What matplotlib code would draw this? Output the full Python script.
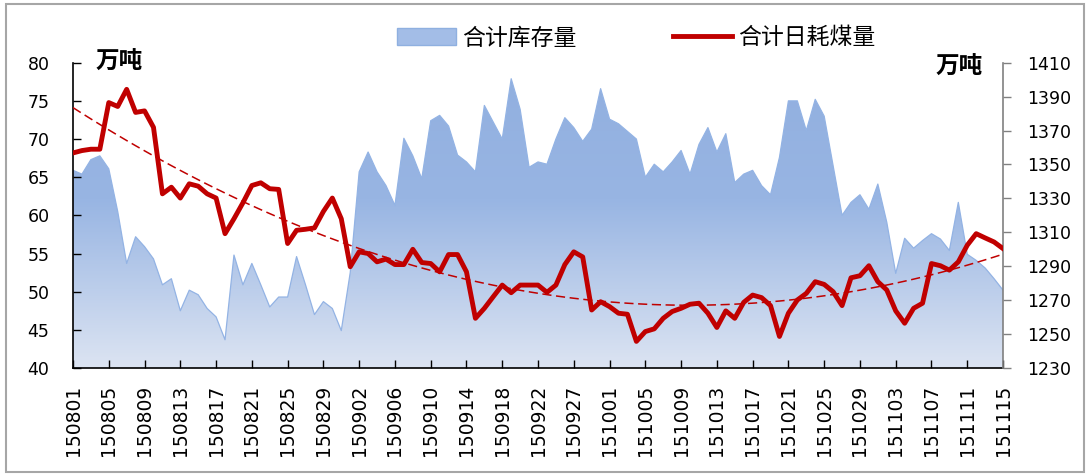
import numpy as np
import matplotlib
matplotlib.use("Agg")
import matplotlib.pyplot as plt
from matplotlib.colors import LinearSegmentedColormap
from matplotlib.lines import Line2D
from matplotlib.patches import Patch, Rectangle

plt.rcParams['font.family'] = ['DejaVu Sans', 'Noto Sans CJK SC']

# 合计库存量 (万吨, left axis)
stock = [65.9, 65.4, 67.3, 67.8, 66.1, 60.5, 53.7, 57.2, 55.9, 54.3,
         50.9, 51.7, 47.5, 50.2, 49.6, 47.8, 46.7, 43.7, 54.8, 50.9,
         53.7, 50.9, 48.0, 49.3, 49.3, 54.6, 50.9, 47.0, 48.7, 47.8,
         44.9, 52.5, 65.7, 68.3, 65.7, 63.9, 61.3, 70.1, 67.8, 64.8,
         72.4, 73.1, 71.7, 67.9, 67.0, 65.7, 74.4, 72.2, 70.0, 77.9,
         73.9, 66.3, 67.0, 66.7, 70.0, 72.8, 71.5, 69.7, 71.3, 76.6,
         72.6, 72.0, 71.0, 70.0, 65.0, 66.7, 65.7, 67.0, 68.5, 65.4,
         69.3, 71.5, 68.3, 70.7, 64.3, 65.4, 65.9, 63.9, 62.7, 67.6,
         75.0, 75.0, 71.1, 75.2, 73.0, 66.5, 60.0, 61.7, 62.7, 60.8,
         64.1, 59.1, 52.4, 57.0, 55.7, 56.7, 57.6, 56.9, 55.4, 61.7,
         54.9, 54.1, 53.1, 51.7, 50.2]

# 合计日耗煤量 (万吨, right axis)
consumption = [1356.8, 1358.2, 1359.0, 1359.0, 1386.5, 1384.2, 1394.3, 1380.7, 1381.6, 1371.9,
               1332.7, 1336.6, 1330.2, 1338.6, 1337.2, 1332.7, 1330.2, 1309.2, 1318.0, 1327.4,
               1337.6, 1339.2, 1335.7, 1335.3, 1303.4, 1311.2, 1311.8, 1312.6, 1322.3, 1330.2,
               1318.0, 1289.7, 1298.5, 1297.5, 1292.6, 1294.2, 1291.0, 1291.0, 1300.0, 1292.2,
               1291.6, 1286.7, 1296.9, 1296.9, 1286.7, 1259.3, 1265.2, 1272.1, 1278.9, 1274.4,
               1278.9, 1278.9, 1278.9, 1274.6, 1278.9, 1291.0, 1298.5, 1295.5, 1264.2, 1269.1,
               1266.2, 1262.3, 1261.7, 1245.7, 1251.5, 1253.1, 1259.3, 1263.3, 1265.2, 1267.6,
               1268.2, 1262.3, 1253.9, 1263.7, 1259.3, 1268.7, 1273.0, 1271.5, 1266.8, 1248.6,
               1262.3, 1270.1, 1274.0, 1280.9, 1279.3, 1275.0, 1266.8, 1283.2, 1284.4, 1290.3,
               1280.9, 1276.0, 1263.7, 1256.4, 1265.2, 1268.2, 1291.6, 1290.3, 1287.7, 1292.6,
               1302.4, 1309.2, 1306.7, 1304.3, 1300.4]

# every 4th date label
tick_labels = ["150801", "150805", "150809", "150813", "150817", "150821", "150825",
               "150829", "150902", "150906", "150910", "150914", "150918", "150922",
               "150927", "151001", "151005", "151009", "151013", "151017", "151021",
               "151025", "151029", "151103", "151107", "151111", "151115"]

x = np.arange(len(stock))
red = '#C00000'

fig = plt.figure(figsize=(10.88, 4.74), dpi=100)
ax = fig.add_axes([0.0671, 0.2236, 0.8548, 0.6441])

# gradient filled area
poly = ax.fill_between(x, 40, stock, facecolor='none', edgecolor='none')
cmap = LinearSegmentedColormap.from_list(
    'blu', [(0.0, '#DCE4F2'), (0.55, '#98B5E3'), (1.0, '#91AFDF')])
grad = np.linspace(0, 1, 256).reshape(-1, 1)
img = ax.imshow(grad, cmap=cmap, origin='lower', aspect='auto',
                extent=[0, x[-1], 40, 80], zorder=1)
img.set_clip_path(poly.get_paths()[0], transform=ax.transData)
ax.plot(x, stock, color='#93B3E4', lw=0.9, zorder=2)

ax.set_xlim(0, x[-1])
ax.set_ylim(40, 80)
ax.set_yticks(np.arange(40, 81, 5))
ax.set_xticks(np.arange(0, len(x), 4))
ax.set_xticklabels(tick_labels, rotation=90, fontsize=13.5)
ax.tick_params(axis='y', direction='in', length=6, width=1, pad=17, labelsize=12.5)
ax.tick_params(axis='x', direction='in', length=6, width=1, pad=12)
for s in ['top', 'right']:
    ax.spines[s].set_visible(False)
ax.spines['left'].set_linewidth(1.2)
ax.spines['bottom'].set_linewidth(1.2)

ax2 = ax.twinx()
ax2.plot(x, consumption, color=red, lw=3.5, solid_joinstyle='round', zorder=3)
coef = np.polyfit(x, consumption, 2)
ax2.plot(x, np.polyval(coef, x), color=red, lw=1.1, ls=(0, (6, 3)), zorder=2)
ax2.set_ylim(1230, 1410)
ax2.set_yticks(np.arange(1230, 1411, 20))
ax2.tick_params(axis='y', direction='out', length=6, width=1, pad=11,
                labelsize=12.5, color='#808080')
for s in ['top', 'left', 'bottom']:
    ax2.spines[s].set_visible(False)
ax2.spines['right'].set_color('#808080')
ax2.spines['right'].set_linewidth(1.2)
ax2.set_xlim(0, x[-1])

fig.text(119 / 1088, 1 - 62 / 474, '万吨', fontsize=17, fontweight='bold',
         family='Noto Sans CJK SC', ha='center', va='center')
fig.text(959 / 1088, 1 - 67 / 474, '万吨', fontsize=17, fontweight='bold',
         family='Noto Sans CJK SC', ha='center', va='center')

handles = [Patch(facecolor='#A3BDE7', edgecolor='#8FB0E0'),
           Line2D([0], [0], color=red, lw=3.5)]
fig.legend(handles, ['合计库存量', '合计日耗煤量'], loc='center',
           bbox_to_anchor=(636 / 1088, 1 - 38 / 474), ncol=2, frameon=False,
           prop={'family': 'Noto Sans CJK SC', 'size': 16.5},
           handlelength=2.6, handleheight=0.8, handletextpad=0.25, columnspacing=4.2)

fig.patches.append(Rectangle((6 / 1088, 2 / 474), 1078 / 1088, 468 / 474,
                             transform=fig.transFigure, fill=False,
                             edgecolor='#A6A6A6', lw=1.5))

fig.savefig('out.png', dpi=100)
